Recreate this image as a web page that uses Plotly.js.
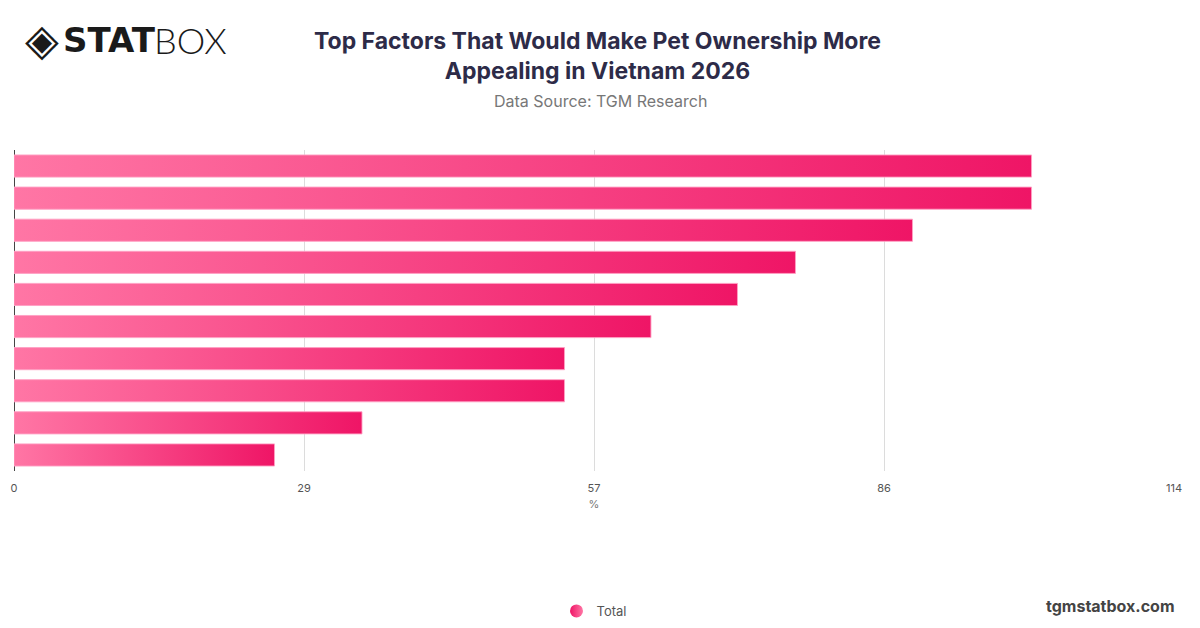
<!DOCTYPE html>
<html>
<head>
<meta charset="utf-8">
<script src="https://cdn.plot.ly/plotly-3.0.1.min.js"></script>
<style>
  html, body { margin: 0; padding: 0; background: #fff; }
  #plot { width: 1200px; height: 628px; }
</style>
</head>
<body>
<div id="plot"></div>
<script>
const TITLE = 'Top Factors That Would Make Pet Ownership More<br>Appealing in Vietnam 2026';
const SUBTITLE = 'Data Source: TGM Research';
const SERIES_NAME = 'Total';
// values top to bottom (%)
const VALUES = [100, 100, 88.3, 76.8, 71.1, 62.6, 54.1, 54.1, 34.2, 25.6];
const TICK_VALS = [0, 28.5, 57, 85.5, 114];
const TICK_TEXT = ['0', '29', '57', '86', '114'];
const X_MAX = 114;
const BAR_HALF = 0.345;

const PINK_LIGHT = '#ff76a5';
const PINK_DEEP = '#ef1566';

// plot area in pixels, used to place the header/footer texts in paper units
const PL = 14, PR = 1174, PT = 150, PB = 471;
function px(x) { return (x - PL) / (PR - PL); }
function py(y) { return (PB - y) / (PB - PT); }

function makeBars() {
  let traces = [];
  for (let i = 0; i < VALUES.length; i++) {
    let v = VALUES[i];
    traces.push({
      type: 'scatter',
      mode: 'lines',
      x: [0, v, v, 0, 0],
      y: [i - BAR_HALF, i - BAR_HALF, i + BAR_HALF, i + BAR_HALF, i - BAR_HALF],
      fill: 'toself',
      fillgradient: {
        type: 'horizontal',
        colorscale: [[0, PINK_LIGHT], [1, PINK_DEEP]]
      },
      line: {color: 'rgba(255,160,195,0.9)', width: 1},
      hoverinfo: 'skip',
      showlegend: false
    });
  }
  // legend entry only
  traces.push({
    type: 'scatter',
    mode: 'markers',
    name: SERIES_NAME,
    x: [null],
    y: [null],
    marker: {size: 13, color: PINK_DEEP, gradient: {type: 'horizontal', color: PINK_LIGHT}},
    showlegend: true
  });
  return traces;
}

const layout = {
  width: 1200,
  height: 628,
  margin: {l: PL, r: 1200 - PR, t: PT, b: 628 - PB, autoexpand: false},
  paper_bgcolor: '#fff',
  plot_bgcolor: '#fff',
  font: {family: 'Inter, "Noto Sans", sans-serif', color: '#666'},
  xaxis: {
    range: [0, X_MAX],
    tickvals: TICK_VALS,
    ticktext: TICK_TEXT,
    showgrid: true,
    gridcolor: '#dcdcdc',
    gridwidth: 1,
    zeroline: true,
    zerolinecolor: '#444',
    zerolinewidth: 1,
    showline: false,
    ticks: '',
    ticklabelstandoff: 9,
    tickfont: {size: 11, color: '#555'},
    title: {text: '%', font: {size: 11, color: '#777'}, standoff: 6},
    automargin: false,
    fixedrange: true
  },
  yaxis: {
    range: [VALUES.length - 0.5, -0.5],
    showticklabels: false,
    showgrid: false,
    zeroline: false,
    ticks: '',
    automargin: false,
    fixedrange: true
  },
  showlegend: true,
  legend: {
    orientation: 'h',
    x: 0.5, xanchor: 'center',
    y: py(611), yanchor: 'middle',
    font: {size: 13, color: '#555'},
    itemwidth: 30
  },
  annotations: [
    {
      text: '<b>' + TITLE + '</b>',
      xref: 'paper', yref: 'paper',
      x: px(597), y: py(55.5), xanchor: 'center', yanchor: 'middle',
      showarrow: false,
      font: {size: 23, color: '#2d2b48'}
    },
    {
      text: SUBTITLE,
      xref: 'paper', yref: 'paper',
      x: px(600), y: py(101), xanchor: 'center', yanchor: 'middle',
      showarrow: false,
      font: {size: 16, color: '#777'}
    },
    {
      text: '◈',
      xref: 'paper', yref: 'paper',
      x: px(23), y: py(40), xanchor: 'left', yanchor: 'middle',
      showarrow: false,
      font: {size: 44, color: '#1a1a1a', family: 'DejaVu Sans'}
    },
    {
      text: '<b>STAT</b>',
      xref: 'paper', yref: 'paper',
      x: px(61), y: py(40), xanchor: 'left', yanchor: 'middle',
      showarrow: false,
      font: {size: 34, color: '#1a1a1a', family: 'DejaVu Sans'}
    },
    {
      text: 'BOX',
      xref: 'paper', yref: 'paper',
      x: px(152), y: py(40), xanchor: 'left', yanchor: 'middle',
      showarrow: false,
      font: {size: 36, color: '#1a1a1a', family: 'Lato', weight: 300}
    },
    {
      text: '<b>tgmstatbox.com</b>',
      xref: 'paper', yref: 'paper',
      x: px(1177), y: py(606), xanchor: 'right', yanchor: 'middle',
      showarrow: false,
      font: {size: 16, color: '#444'}
    }
  ]
};

Plotly.newPlot('plot', makeBars(), layout, {displayModeBar: false, staticPlot: true});
</script>
</body>
</html>
